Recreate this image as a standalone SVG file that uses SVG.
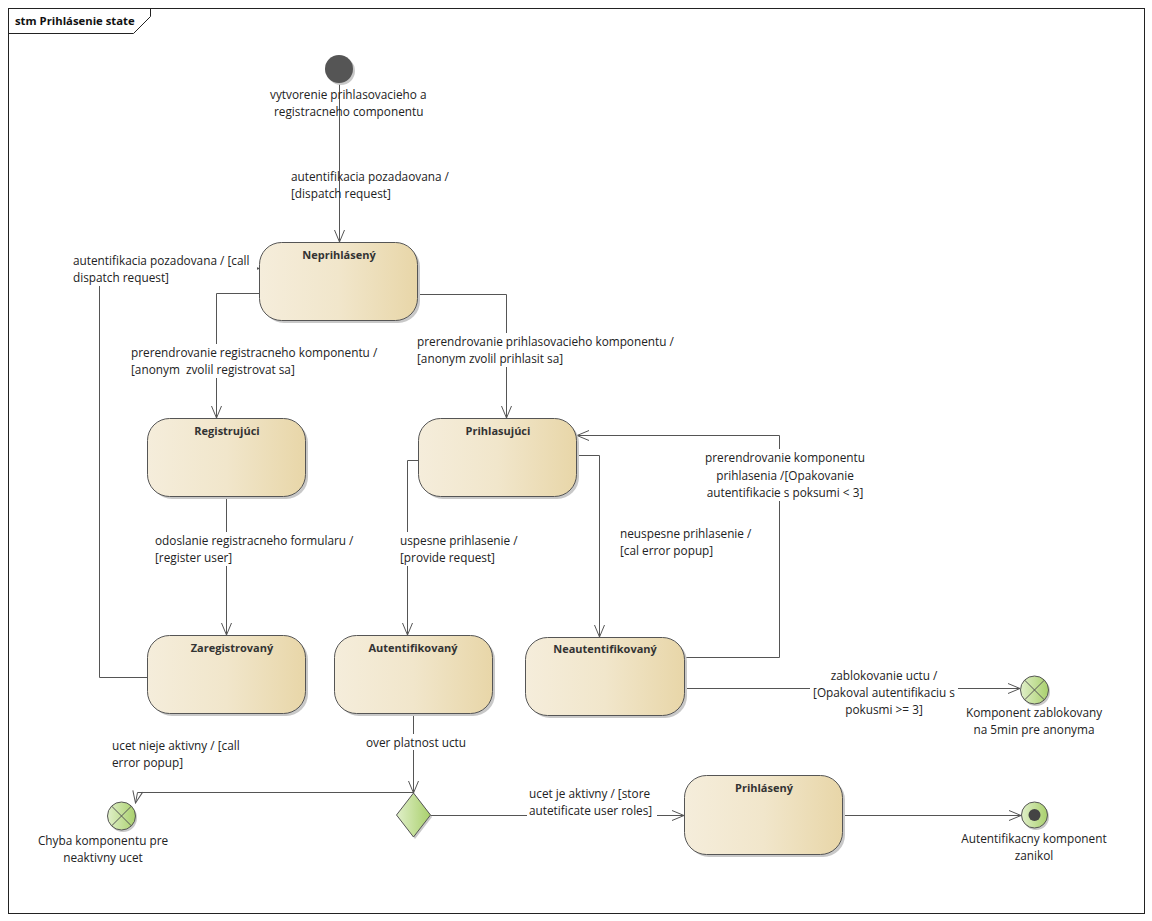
<svg xmlns="http://www.w3.org/2000/svg" width="1152" height="921" viewBox="0 0 1152 921">
  <defs>
    <linearGradient id="stateFill" x1="0" y1="0" x2="1" y2="0">
      <stop offset="0" stop-color="#f5eddb"/>
      <stop offset="0.5" stop-color="#f1e6cb"/>
      <stop offset="1" stop-color="#e8d6a8"/>
    </linearGradient>
    <linearGradient id="greenFill" x1="0" y1="0" x2="1" y2="0">
      <stop offset="0" stop-color="#e0efc9"/>
      <stop offset="1" stop-color="#a9d06c"/>
    </linearGradient>
    <marker id="open" markerWidth="14" markerHeight="12" refX="13" refY="6" orient="auto" markerUnits="userSpaceOnUse">
      <path d="M1,1 L13,6 L1,11" fill="none" stroke="#555" stroke-width="1"/>
    </marker>
    <style>
      .frame { fill: none; stroke: #222; stroke-width: 1; }
      .state { fill: url(#stateFill); stroke: #555; stroke-width: 1; }
      .shadow { fill: #c8c8c8; stroke: none; }
      .green { fill: url(#greenFill); stroke: #555; stroke-width: 1; }
      .edge { fill: none; stroke: #555; stroke-width: 1; }
      .arrow { marker-end: url(#open); }
      .name { font-family: "Open Sans", "Noto Sans", sans-serif; font-size: 11px; font-weight: bold; fill: #333; text-anchor: middle; }
      .lbl { font-family: "Open Sans", "Noto Sans", sans-serif; font-size: 11.8px; fill: #222; }
      .mid { text-anchor: middle; }
      .bg { fill: #fff; stroke: none; }
    </style>
  </defs>

  <rect width="1152" height="921" fill="#fff"/>

  <!-- diagram frame -->
  <g id="frame">
    <rect class="frame" x="8.5" y="8.5" width="1136" height="905"/>
    <path class="frame" d="M8.5,33.5 H133.5 L150.5,16.5 V8.5"/>
    <text x="15" y="25" font-family="Open Sans, Noto Sans, sans-serif" font-size="11.3" font-weight="bold" fill="#111">stm Prihlásenie state</text>
  </g>

  <!-- transitions -->
  <g id="connectors">
    <path class="edge arrow" d="M339.5,83 V242"/>
    <path class="edge arrow" d="M259,293.5 H216.5 V418"/>
    <path class="edge arrow" d="M418,294.5 H506.5 V418"/>
    <path class="edge arrow" d="M226.5,496 V635"/>
    <path class="edge arrow" d="M418,460.5 H407.5 V635"/>
    <path class="edge arrow" d="M577,455.5 H599.5 V637"/>
    <path class="edge arrow" d="M684,657.5 H779.5 V435.5 H577"/>
    <path class="edge arrow" d="M684,688.5 H1020"/>
    <path class="edge arrow" d="M147,677.5 H99.5 V268.5 H259"/>
    <path class="edge arrow" d="M413.5,713 V793"/>
    <path class="edge arrow" d="M413.5,792.5 H137.5 L135.5,803"/>
    <path class="edge arrow" d="M430,815.5 H684"/>
    <path class="edge arrow" d="M842,815.5 H1021"/>
  </g>

  <!-- transition labels -->
  <g id="labels">
    <text class="lbl" x="270" y="99">vytvorenie prihlasovacieho a</text>
    <text class="lbl" x="274" y="116">registracneho componentu</text>

    <text class="lbl" x="291" y="181">autentifikacia pozadaovana /</text>
    <text class="lbl" x="291" y="198">[dispatch request]</text>

    <rect class="bg" x="71" y="252" width="186" height="34"/>
    <text class="lbl" x="73" y="265">autentifikacia pozadovana / [call</text>
    <text class="lbl" x="73" y="282">dispatch request]</text>

    <rect class="bg" x="129" y="344" width="250" height="34"/>
    <text class="lbl" x="131" y="357">prerendrovanie registracneho komponentu /</text>
    <text class="lbl" x="131" y="374" xml:space="preserve">[anonym  zvolil registrovat sa]</text>

    <rect class="bg" x="415" y="333" width="262" height="34"/>
    <text class="lbl" x="417" y="346">prerendrovanie prihlasovacieho komponentu /</text>
    <text class="lbl" x="417" y="363">[anonym zvolil prihlasit sa]</text>

    <rect class="bg" x="153" y="532" width="206" height="34"/>
    <text class="lbl" x="155" y="545">odoslanie registracneho formularu /</text>
    <text class="lbl" x="155" y="562">[register user]</text>

    <rect class="bg" x="398" y="532" width="124" height="34"/>
    <text class="lbl" x="400" y="545">uspesne prihlasenie /</text>
    <text class="lbl" x="400" y="562">[provide request]</text>

    <rect class="bg" x="618" y="525" width="138" height="34"/>
    <text class="lbl" x="620" y="538">neuspesne prihlasenie /</text>
    <text class="lbl" x="620" y="555">[cal error popup]</text>

    <rect class="bg" x="704" y="449" width="162" height="52"/>
    <text class="lbl mid" x="785" y="462">prerendrovanie komponentu</text>
    <text class="lbl mid" x="785" y="480">prihlasenia /[Opakovanie</text>
    <text class="lbl mid" x="785" y="497">autentifikacie s poksumi &lt; 3]</text>

    <rect class="bg" x="810" y="667" width="148" height="52"/>
    <text class="lbl mid" x="884" y="680">zablokovanie uctu /</text>
    <text class="lbl mid" x="884" y="697">[Opakoval autentifikaciu s</text>
    <text class="lbl mid" x="884" y="714">pokusmi &gt;= 3]</text>

    <text class="lbl" x="112" y="750">ucet nieje aktivny / [call</text>
    <text class="lbl" x="112" y="767">error popup]</text>

    <rect class="bg" x="364" y="734" width="104" height="16"/>
    <text class="lbl mid" x="416" y="747">over platnost uctu</text>

    <rect class="bg" x="527" y="785" width="130" height="34"/>
    <text class="lbl" x="529" y="798">ucet je aktivny / [store</text>
    <text class="lbl" x="529" y="815">autetificate user roles]</text>
  </g>

  <!-- initial pseudostate -->
  <g id="initial">
    <circle cx="341" cy="71" r="14" fill="#c8c8c8"/>
    <circle cx="339" cy="69" r="14" fill="#555"/>
  </g>

  <g id="neprihlaseny">
    <rect class="shadow" x="262" y="245" width="158" height="78" rx="22"/>
    <rect class="state" x="259.5" y="242.5" width="158" height="78" rx="22"/>
    <text class="name" x="339" y="259">Neprihlásený</text>
  </g>

  <g id="registrujuci">
    <rect class="shadow" x="150" y="421" width="158" height="78" rx="22"/>
    <rect class="state" x="147.5" y="418.5" width="158" height="78" rx="22"/>
    <text class="name" x="227" y="435">Registrujúci</text>
  </g>

  <g id="prihlasujuci">
    <rect class="shadow" x="421" y="421" width="158" height="78" rx="22"/>
    <rect class="state" x="418.5" y="418.5" width="158" height="78" rx="22"/>
    <text class="name" x="498" y="435">Prihlasujúci</text>
  </g>

  <g id="zaregistrovany">
    <rect class="shadow" x="150" y="638" width="158" height="78" rx="22"/>
    <rect class="state" x="147.5" y="635.5" width="158" height="78" rx="22"/>
    <text class="name" x="232" y="652">Zaregistrovaný</text>
  </g>

  <g id="autentifikovany">
    <rect class="shadow" x="337" y="638" width="158" height="78" rx="22"/>
    <rect class="state" x="334.5" y="635.5" width="158" height="78" rx="22"/>
    <text class="name" x="413" y="652">Autentifikovaný</text>
  </g>

  <g id="neautentifikovany">
    <rect class="shadow" x="528" y="640" width="159" height="78" rx="22"/>
    <rect class="state" x="525.5" y="637.5" width="159" height="78" rx="22"/>
    <text class="name" x="605" y="653">Neautentifikovaný</text>
  </g>

  <g id="prihlaseny">
    <rect class="shadow" x="687" y="778" width="158" height="79" rx="22"/>
    <rect class="state" x="684.5" y="775.5" width="158" height="79" rx="22"/>
    <text class="name" x="764" y="792">Prihlásený</text>
  </g>

  <!-- choice -->
  <g id="choice">
    <polygon points="415,795 432,817 415,839 398,817" fill="#c8c8c8"/>
    <polygon class="green" points="413.5,793 430.5,815 413.5,837 396.5,815"/>
  </g>

  <!-- terminate: inactive account -->
  <g id="chyba">
    <circle cx="123" cy="818" r="14" fill="#c8c8c8"/>
    <circle class="green" cx="121.5" cy="816" r="14"/>
    <path class="edge" d="M111.6,806.1 L131.4,825.9 M131.4,806.1 L111.6,825.9"/>
    <text class="lbl mid" x="103" y="845">Chyba komponentu pre</text>
    <text class="lbl mid" x="103" y="862">neaktivny ucet</text>
  </g>

  <!-- terminate: blocked -->
  <g id="zablokovany">
    <circle cx="1036" cy="692" r="14" fill="#c8c8c8"/>
    <circle class="green" cx="1034.5" cy="690" r="14"/>
    <path class="edge" d="M1024.6,680.1 L1044.4,699.9 M1044.4,680.1 L1024.6,699.9"/>
    <text class="lbl mid" x="1034" y="717">Komponent zablokovany</text>
    <text class="lbl mid" x="1034" y="734">na 5min pre anonyma</text>
  </g>

  <!-- final state -->
  <g id="final">
    <circle cx="1036" cy="817" r="13" fill="#c8c8c8"/>
    <circle class="green" cx="1034.5" cy="815" r="13"/>
    <circle cx="1034.5" cy="815" r="6" fill="#444"/>
    <text class="lbl mid" x="1034" y="843">Autentifikacny komponent</text>
    <text class="lbl mid" x="1034" y="860">zanikol</text>
  </g>
</svg>
